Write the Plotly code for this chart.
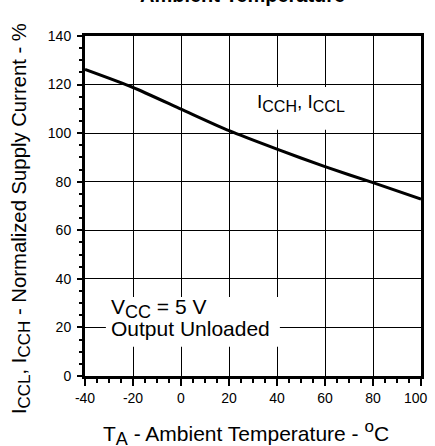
import plotly.graph_objects as go

# Data
temperature_c = [-40, -20, 0, 20, 40, 60, 80, 100]
normalized_icc_pct = [126.2, 118.8, 109.9, 101.0, 93.4, 86.2, 79.6, 72.8]

x_ticks = [-40, -20, 0, 20, 40, 60, 80, 100]
x_tick_labels = ["-40", "-20", "0", "20", "40", "60", "80", ""]
last_x_label = "100"
y_ticks = [0, 20, 40, 60, 80, 100, 120, 140]

FONT = "Arial, Liberation Sans, sans-serif"


def sub(text, px):
    return f'<sub><span style="font-size:{px}px">{text}</span></sub>'


def sup(text, px):
    return f'<sup><span style="font-size:{px}px">{text}</span></sup>'


fig = go.Figure()
fig.add_trace(go.Scatter(
    x=temperature_c, y=normalized_icc_pct, mode="lines",
    line=dict(color="black", width=3, shape="spline", smoothing=0.6),
    hoverinfo="skip", showlegend=False,
))

axis_common = dict(
    showgrid=True, gridcolor="black", gridwidth=1.3,
    showline=True, linecolor="black", linewidth=3, mirror=True,
    ticks="outside", tickcolor="black", tickwidth=1.5,
    zeroline=False,
    tickfont=dict(family=FONT, size=14, color="black"),
)

fig.update_xaxes(
    range=[-40, 100], tickvals=x_ticks, ticktext=x_tick_labels, ticklen=7,
    minor=dict(dtick=5, ticks="outside", ticklen=4, tickwidth=1.5, tickcolor="black", showgrid=False),
    **axis_common,
)
fig.update_yaxes(
    range=[0, 140], tickvals=y_ticks, ticklen=5, ticklabelstandoff=3,
    minor=dict(dtick=5, ticks="outside", ticklen=3, tickwidth=1.5, tickcolor="black", showgrid=False),
    **axis_common,
)

# white boxes behind the in-plot labels (they hide the grid lines)
fig.add_shape(type="rect", xref="x", yref="y", x0=28, x1=74.5, y0=101.4, y1=119,
              fillcolor="white", line=dict(width=0), layer="above")
fig.add_shape(type="rect", xref="x", yref="y", x0=-31.3, x1=41.2, y0=12, y1=32.5,
              fillcolor="white", line=dict(width=0), layer="above")

annotations = [
    # cut-off title at top
    dict(text="<b>Ambient Temperature</b>", x=0.47, y=1.121, xref="paper", yref="paper",
         xanchor="center", yanchor="middle", showarrow=False,
         font=dict(family=FONT, size=20, color="black")),
    # y axis title
    dict(text=f"I{sub('CCL', 17)}, I{sub('CCH', 17)} - Normalized Supply Current - %",
         x=-0.19, y=0.462, xref="paper", yref="paper", textangle=-90,
         xanchor="center", yanchor="middle", showarrow=False,
         font=dict(family=FONT, size=20.3, color="black")),
    # x axis title
    dict(text=f"T{sub('A', 18)} - Ambient Temperature - {sup('o', 17)}C",
         x=0.48, y=-0.168, xref="paper", yref="paper",
         xanchor="center", yanchor="middle", showarrow=False,
         font=dict(family=FONT, size=21, color="black")),
    # last x tick label, nudged left like the reference
    dict(text=last_x_label, x=100, y=0, xref="x", yref="paper",
         xanchor="center", yanchor="middle", xshift=-5, yshift=-22, showarrow=False,
         font=dict(family=FONT, size=14, color="black")),
    # curve label
    dict(text=f"I{sub('CCH', 16)}, I{sub('CCL', 16)}", x=50, y=112.5, xref="x", yref="y",
         xanchor="center", yanchor="middle", showarrow=False,
         font=dict(family=FONT, size=19, color="black")),
    # conditions label
    dict(text=f"V{sub('CC', 18)} = 5 V", x=-30.2, y=28.0, xref="x", yref="y",
         xanchor="left", yanchor="middle", align="left", showarrow=False,
         font=dict(family=FONT, size=21, color="black")),
    dict(text="Output Unloaded", x=-30.2, y=19.6, xref="x", yref="y",
         xanchor="left", yanchor="middle", align="left", showarrow=False,
         font=dict(family=FONT, size=21, color="black")),
]

fig.update_layout(
    width=435, height=446,
    margin=dict(l=85, r=11, t=36, b=70),
    paper_bgcolor="white", plot_bgcolor="white",
    annotations=annotations,
    showlegend=False,
)

fig.write_html("out.html", config={"displayModeBar": False},
               post_script="document.body.style.margin='0px';")
